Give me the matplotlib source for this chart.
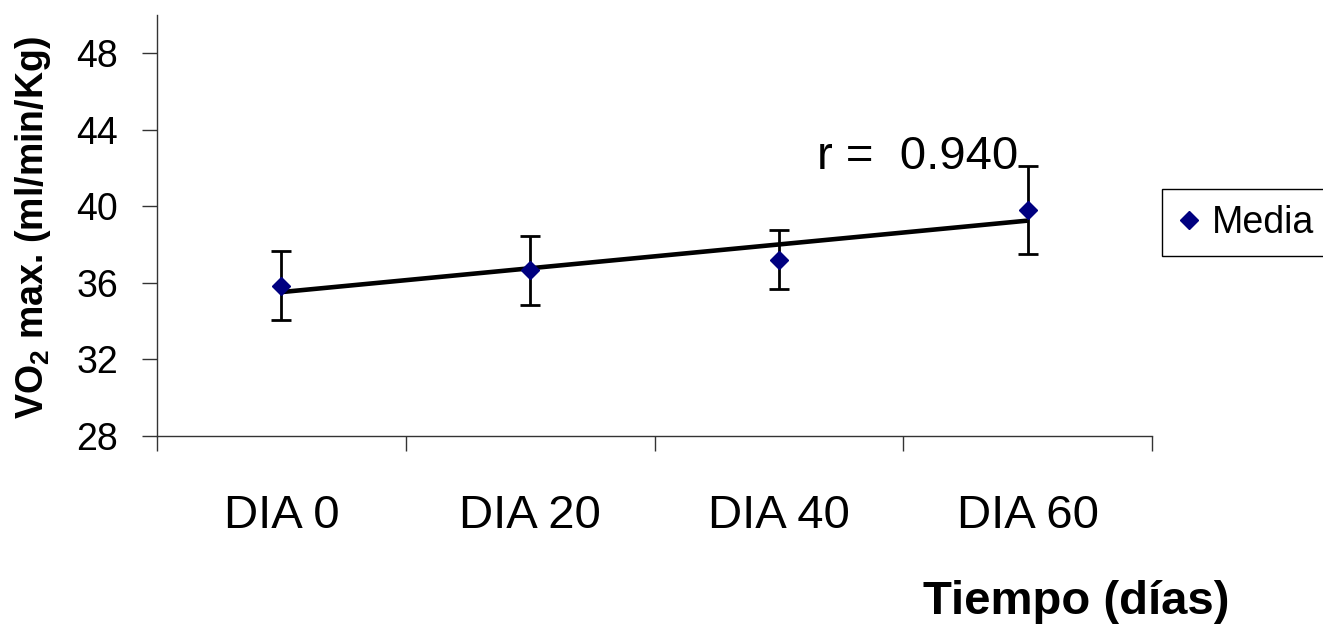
import matplotlib
matplotlib.use("Agg")
import matplotlib.pyplot as plt
import numpy as np

plt.rcParams['font.family'] = ['Liberation Sans', 'DejaVu Sans']
plt.rcParams['mathtext.fontset'] = 'custom'
plt.rcParams['mathtext.rm'] = 'Liberation Sans'
plt.rcParams['mathtext.bf'] = 'Liberation Sans:bold'
plt.rcParams['mathtext.it'] = 'Liberation Sans:italic'

categories = ['DIA 0', 'DIA 20', 'DIA 40', 'DIA 60']
media = [35.86, 36.65, 37.22, 39.82]
error = [1.82, 1.80, 1.54, 2.29]
r_value = 0.940
y_ticks = [28, 32, 36, 40, 44, 48]

W, H = 1323, 634
fig = plt.figure(figsize=(W / 100, H / 100), dpi=100)
ax = fig.add_axes([157 / W, 1 - 436 / H, (1152 - 157) / W, (436 - 15) / H])

x = np.arange(len(categories))

# trend line (linear fit on means)
coef = np.polyfit(x, media, 1)
ax.plot(x, np.polyval(coef, x), color='black', lw=3.3, zorder=2, solid_capstyle='butt')

ax.errorbar(x, media, yerr=error, fmt='none', ecolor='black', elinewidth=2.0,
            capsize=7.5, capthick=2.0, zorder=3)
ax.plot(x, media, linestyle='none', marker='D', markersize=9.5, color='#000080',
        markeredgecolor='#000080', zorder=4, label='Media')

ax.set_xlim(-0.5, len(categories) - 0.5)
ax.set_ylim(28, 50)
ax.set_yticks(y_ticks)
ax.set_yticklabels([str(v) for v in y_ticks], fontsize=27)
ax.tick_params(axis='y', direction='out', length=11, width=1, pad=17, color='#333333')

ax.set_xticks(np.arange(-0.5, len(categories), 1.0))
ax.set_xticklabels([])
ax.tick_params(axis='x', which='major', direction='out', length=11, width=1, color='#333333')
ax.set_xticks(x, minor=True)
ax.set_xticklabels(categories, minor=True, fontsize=34)
ax.tick_params(axis='x', which='minor', length=0, pad=42)

for s in ['top', 'right']:
    ax.spines[s].set_visible(False)
for s in ['left', 'bottom']:
    ax.spines[s].set_color('#333333')
    ax.spines[s].set_linewidth(1.0)

ax.text(2.153, 41.96, 'r =  %.3f' % r_value, fontsize=34, ha='left', va='baseline')

fig.text(33 / W, 1 - 228 / H, r'VO$_\mathbf{2}$ max. (ml/min/Kg)', rotation=90,
         fontsize=27, fontweight='bold', ha='center', va='center')
fig.text(923 / W, 1 - 614 / H, 'Tiempo (días)', fontsize=34, fontweight='bold',
         ha='left', va='baseline')

leg = fig.legend(loc='upper left', bbox_to_anchor=(1162 / W, 1 - 189 / H),
                 fontsize=27, frameon=True, fancybox=False, framealpha=1,
                 edgecolor='black', handlelength=0.6, handletextpad=0.3,
                 borderpad=0.42, borderaxespad=0, markerscale=1.0)
leg.get_frame().set_linewidth(1.0)

fig.savefig('out.png', dpi=100)
